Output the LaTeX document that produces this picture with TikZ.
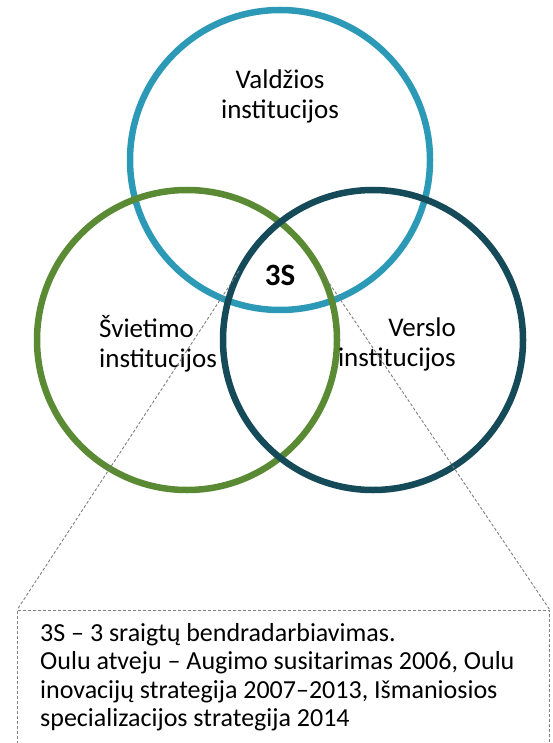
\documentclass[tikz,border=0pt]{standalone}
\usepackage{fontspec}
\setmainfont{Carlito}
\definecolor{cblue}{HTML}{2C9AB7}
\definecolor{cgreen}{HTML}{5A8A33}
\definecolor{cdark}{HTML}{154A58}
\definecolor{cdash}{HTML}{808080}
\begin{document}
\begin{tikzpicture}[x=1pt,y=-1pt,
  ring/.style={circle, line width=6.5pt, minimum size=300pt, inner sep=0pt},
  lbl/.style={font=\fontsize{27}{30}\selectfont, inner sep=0pt},
  dashline/.style={draw=cdash, line width=0.9pt, dash pattern=on 3pt off 2pt}]
\useasboundingbox (0,0) rectangle (552,743);
\clip (0,0) rectangle (552,743);
\node[ring, draw=cblue] (gov) at (280,160) {};
\node[ring, draw=cgreen] (edu) at (187,340) {};
\node[ring, draw=cdark] (biz) at (373,340) {};
\node[lbl, align=center] (govl) at (280,96) {Valdžios\\institucijos};
\node[lbl, align=left, anchor=west] (edul) at (99,344) {Švietimo\\institucijos};
\node[lbl, align=right, anchor=east] (bizl) at (456,344) {Verslo\\institucijos};
\node[font=\fontsize{31}{34}\bfseries\selectfont, inner sep=0pt] (ss) at (280,275) {3S};
\coordinate (tl) at (239,271);
\coordinate (tr) at (321,271);
\node[dashline, anchor=north west, minimum width=532pt, minimum height=200pt, inner sep=0pt] (note) at (17,610) {};
\draw[dashline] (tl) -- (note.north west);
\draw[dashline] (tr) -- (note.north east);
\node[anchor=north west, align=left, inner sep=0pt, font=\fontsize{26}{28.5}\selectfont] (notetext) at (40,623)
 {3S – 3 sraigtų bendradarbiavimas.\\Oulu atveju – Augimo susitarimas 2006, Oulu\\inovacijų strategija 2007–2013, Išmaniosios\\specializacijos strategija 2014};
\end{tikzpicture}
\end{document}
